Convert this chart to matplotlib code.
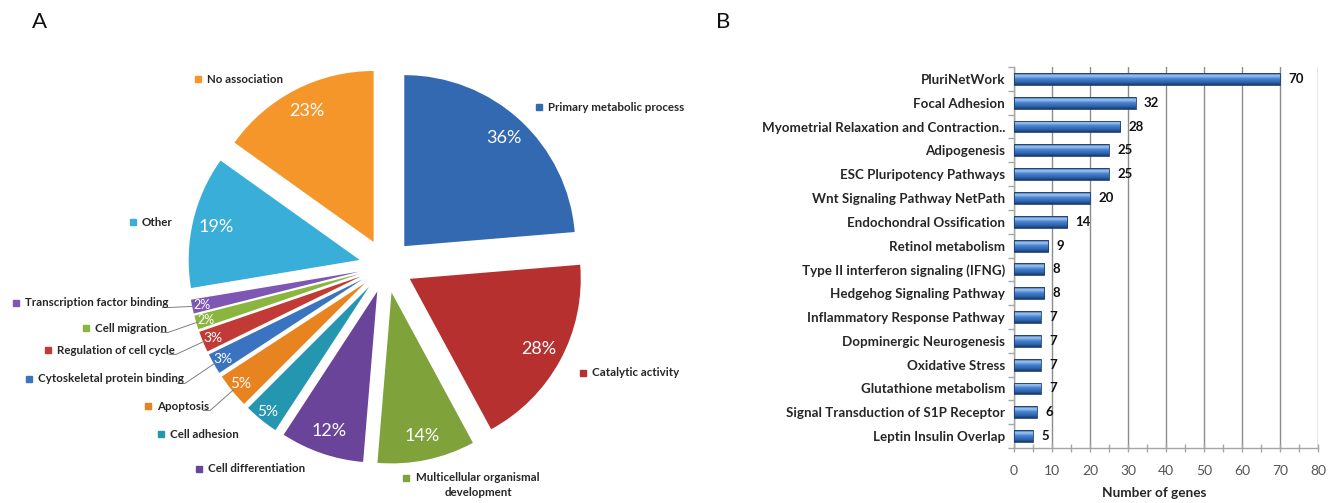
import math
import numpy as np
import matplotlib
matplotlib.use("Agg")
import matplotlib.pyplot as plt
from matplotlib.colors import LinearSegmentedColormap

# ---------------------------------------------------------------- data
go_terms = [
    "Primary metabolic process", "Catalytic activity",
    "Multicellular organismal\ndevelopment", "Cell differentiation",
    "Cell adhesion", "Apoptosis", "Cytoskeletal protein binding",
    "Regulation of cell cycle", "Cell migration",
    "Transcription factor binding", "Other", "No association",
]
go_percent = [36, 28, 14, 12, 5, 5, 3, 3, 2, 2, 19, 23]
go_colors = [
    "#3269B0", "#B5302F", "#7FA23A", "#6A4499", "#2596AF", "#E8841F",
    "#3A74C0", "#C23A36", "#8AB63F", "#7E57B5", "#38AED8", "#F5962A",
]

pathways = [
    "PluriNetWork", "Focal Adhesion", "Myometrial Relaxation and Contraction..",
    "Adipogenesis", "ESC Pluripotency Pathways", "Wnt Signaling Pathway NetPath",
    "Endochondral Ossification", "Retinol metabolism",
    "Type II interferon signaling (IFNG)", "Hedgehog Signaling Pathway",
    "Inflammatory Response Pathway", "Dopminergic Neurogenesis",
    "Oxidative Stress", "Glutathione metabolism",
    "Signal Transduction of S1P Receptor", "Leptin Insulin Overlap",
]
gene_counts = [70, 32, 28, 25, 25, 20, 14, 9, 8, 8, 7, 7, 7, 7, 6, 5]
count_ticks = list(range(0, 90, 10))

# ---------------------------------------------------------------- figure
W, H, DPI = 1334, 503, 100
plt.rcParams["font.family"] = ["Lato", "DejaVu Sans"]

fig = plt.figure(figsize=(W / DPI, H / DPI), dpi=DPI)
fig.patch.set_facecolor("white")

fig.text(40 / W, 1 - 22 / H, "A", fontsize=16, ha="center", va="center", color="#111111")
fig.text(723 / W, 1 - 22 / H, "B", fontsize=16, ha="center", va="center", color="#111111")

# ---------------------------------------------------------------- panel A: pie
LEFT_W = 700
axA = fig.add_axes([0, 0, LEFT_W / W, 1])
PIE_C = (386, 237)
PIE_R = 171
GAP = 27

wedges, _ = axA.pie(go_percent, colors=go_colors, startangle=90, counterclock=False,
                    radius=PIE_R, center=PIE_C, wedgeprops=dict(linewidth=0))
axA.set_xlim(0, LEFT_W)
axA.set_ylim(0, H)
axA.set_aspect("equal")
axA.axis("off")

mids = []
for w in wedges:
    mid = math.radians((w.theta1 + w.theta2) / 2)
    mids.append(mid)
    w.set_center((PIE_C[0] + GAP * math.cos(mid), PIE_C[1] + GAP * math.sin(mid)))

pct_size = {2: 9, 3: 10, 5: 11}
for w, v, mid in zip(wedges, go_percent, mids):
    cx, cy = w.center
    dist = 0.86 if v >= 10 else 0.94
    axA.text(cx + dist * PIE_R * math.cos(mid), cy + dist * PIE_R * math.sin(mid),
             f"{v}%", color="white", fontsize=pct_size.get(v, 13),
             ha="center", va="center")

# category labels: (text x, text y) in pixel layout, y measured from top
label_xy = [
    (548, 107), (592, 373), (478, 485), (208, 469), (170, 434), (157, 406),
    (38, 379), (57, 350), (95, 328), (25, 303), (142, 222), (207, 79),
]
leader_idx = {5, 6, 7, 8, 9}
LABEL_FS = 8.3
label_texts = []
for i, (name, col, (tx, ty)) in enumerate(zip(go_terms, go_colors, label_xy)):
    yy = H - ty
    if "\n" in name:
        t = axA.text(tx, yy, name, fontsize=LABEL_FS, fontweight="bold", color="#262626",
                     ha="center", va="center", multialignment="center", linespacing=1.35)
        axA.plot([406], [H - 478], marker="s", ms=4.4, color=col, mec=col)
    else:
        t = axA.text(tx, yy, name, fontsize=LABEL_FS, fontweight="bold", color="#262626",
                     ha="left", va="center")
        axA.plot([tx - 9], [yy], marker="s", ms=4.4, color=col, mec=col)
    label_texts.append(t)

fig.canvas.draw()
renderer = fig.canvas.get_renderer()
inv = axA.transData.inverted()
for i in sorted(leader_idx):
    bb = label_texts[i].get_window_extent(renderer)
    (x0, y0), (x1, y1) = inv.transform([(bb.x0, bb.y0), (bb.x1, bb.y1)])
    cx, cy = wedges[i].center
    px = cx + 0.99 * PIE_R * math.cos(mids[i])
    py = cy + 0.99 * PIE_R * math.sin(mids[i])
    axA.plot([x1 - 6, x1 + 1, px], [y0 + 1, y0 + 1, py], color="#808080", lw=0.7)

# ---------------------------------------------------------------- panel B: bars
axB = fig.add_axes([1014 / W, (H - 448) / H, (1318 - 1014) / W, (448 - 67) / H])
n = len(pathways)
ypos = np.arange(n)[::-1]
BAR_H = 0.5

bars = axB.barh(ypos, gene_counts, height=BAR_H, color="#3A73BE", linewidth=0, zorder=3)
bar_cmap = LinearSegmentedColormap.from_list(
    "tube", [(0.0, "#173A6C"), (0.2, "#2B61AA"), (0.55, "#4B86D2"),
             (0.78, "#A5C8F0"), (1.0, "#2D5C9E")])
grad = np.linspace(0, 1, 64).reshape(-1, 1)
for bar in bars:
    x0, y0 = bar.get_x(), bar.get_y()
    im = axB.imshow(grad, cmap=bar_cmap, aspect="auto", origin="lower",
                    extent=(x0, x0 + bar.get_width(), y0, y0 + bar.get_height()),
                    zorder=3.5, interpolation="bilinear")
    im.set_clip_path(bar)
axB.barh(ypos, gene_counts, height=BAR_H, fill=False, edgecolor="#1B3D70",
         linewidth=0.6, zorder=4)

for y, v in zip(ypos, gene_counts):
    axB.text(v + 2.2, y, str(v), va="center", ha="left", fontsize=9.5,
             fontweight="bold", color="#111111")

axB.set_xlim(0, 80)
axB.set_ylim(-0.5, n - 0.5)
axB.set_xticks(count_ticks)
axB.set_xticks(np.arange(5, 80, 10), minor=True)
axB.set_yticks(ypos, labels=pathways)
axB.set_yticks(np.arange(-0.5, n, 1), minor=True)
axB.tick_params(axis="x", which="both", direction="inout", length=6, width=1,
                color="#A6A6A6", labelcolor="#555555", labelsize=10, pad=9)
axB.tick_params(axis="y", which="major", length=0, pad=6.5, labelsize=9.6,
                labelcolor="#262626")
axB.tick_params(axis="y", which="minor", length=4, width=1, color="#A6A6A6")
for lbl in axB.get_yticklabels():
    lbl.set_fontweight("bold")

axB.grid(axis="x", color="#8C8C8C", lw=1.0, zorder=0)
axB.set_axisbelow(True)
for side in ("top", "right"):
    axB.spines[side].set_visible(False)
for side in ("left", "bottom"):
    axB.spines[side].set_color("#A6A6A6")
    axB.spines[side].set_linewidth(1)

fig.text(1154 / W, 1 - 493 / H, "Number of genes", fontsize=9.8, fontweight="bold",
         ha="center", va="center", color="#262626")

fig.savefig("out.png", dpi=DPI, facecolor="white")
